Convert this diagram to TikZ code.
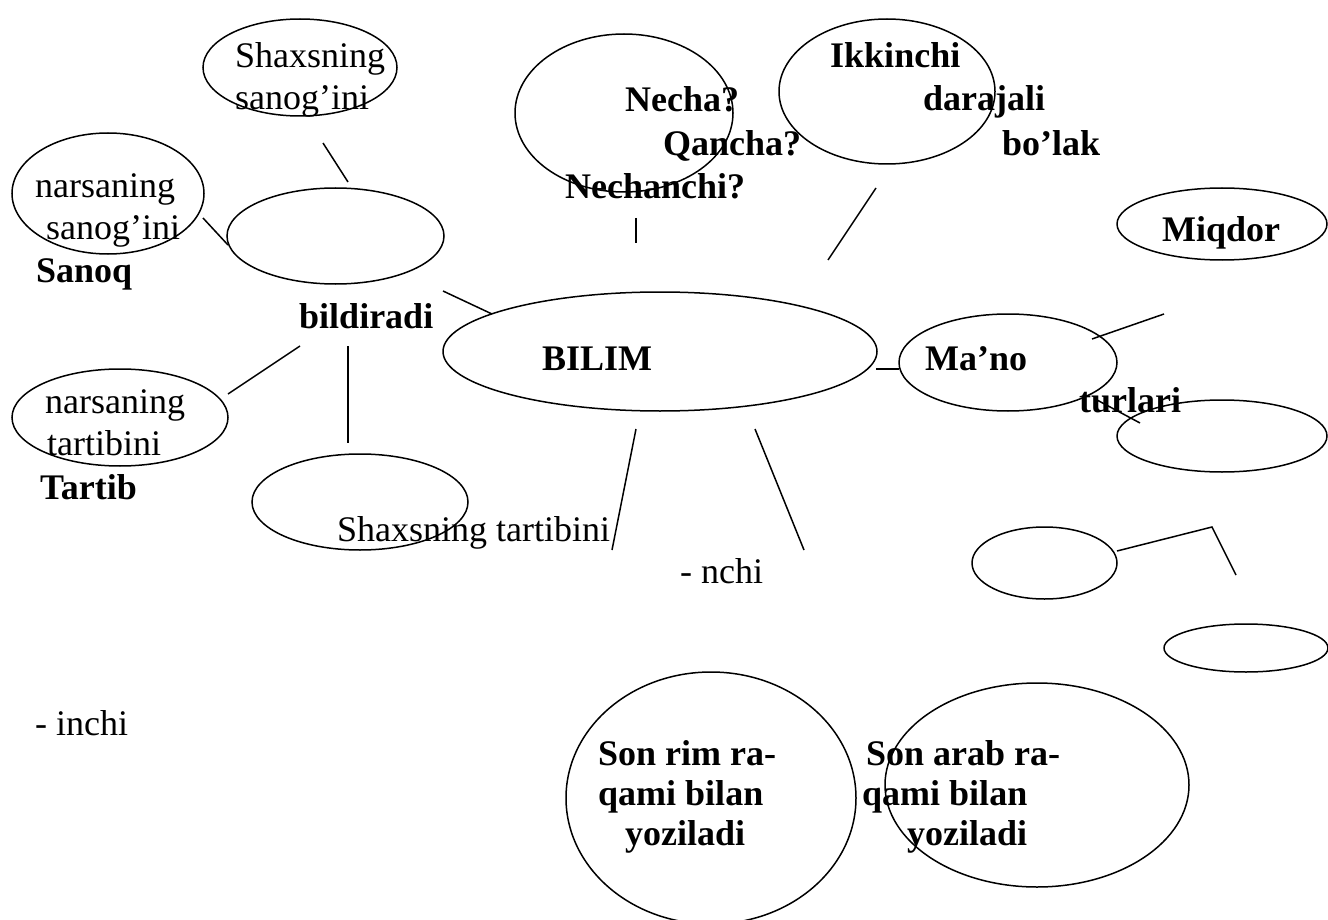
\documentclass[tikz,border=0pt]{standalone}
\usepackage{fontspec}
\setmainfont{Liberation Serif}
\usetikzlibrary{shapes.geometric}
\begin{document}
\begin{tikzpicture}[x=1pt,y=-1pt,
  ell/.style={draw, ellipse, line width=1.5pt, inner sep=0pt},
  esz/.style 2 args={minimum width=#1, minimum height=#2},
  conn/.style={line width=1.5pt},
  rt/.style={anchor=base west, inner sep=0pt, font=\fontsize{36}{43}\selectfont},
  bt/.style={anchor=base west, inner sep=0pt, font=\fontsize{36}{43}\selectfont\bfseries}]
\useasboundingbox (0,0) rectangle (1328,920);
\fill[white] (0,0) rectangle (1328,920);

% ellipses
\node[ell, esz={194pt}{97pt}]  (eA)    at (300,67.5) {};
\node[ell, esz={192pt}{121pt}] (eB)    at (108,193.5) {};
\node[ell, esz={217pt}{96pt}]  (eC)    at (335.5,236) {};
\node[ell, esz={216pt}{97pt}]  (eD)    at (120,417.5) {};
\node[ell, esz={216pt}{96pt}]  (eE)    at (360,502) {};
\node[ell, esz={218pt}{158pt}] (eNec)  at (624,113) {};
\node[ell, esz={216pt}{145pt}] (eIkk)  at (887,91.5) {};
\node[ell, esz={210pt}{72pt}]  (eMiq)  at (1222,224) {};
\node[ell, esz={434pt}{119pt}] (eBil)  at (660,351.5) {};
\node[ell, esz={218pt}{97pt}]  (eMan)  at (1008,362.5) {};
\node[ell, esz={210pt}{72pt}]  (eF)    at (1222,436) {};
\node[ell, esz={145pt}{72pt}]  (eG)    at (1044.5,563) {};
\node[ell, esz={164pt}{48pt}]  (eH)    at (1246,648) {};
\node[ell, esz={290pt}{252pt}] (eSon1) at (711,798) {};
\node[ell, esz={304pt}{204pt}] (eSon2) at (1037,785) {};

% connector end points
\coordinate (a1) at (323,143);  \coordinate (a2) at (348,182);
\coordinate (b1) at (203,218);  \coordinate (b2) at (228,245);
\coordinate (c1) at (443,291);  \coordinate (c2) at (492,314);
\coordinate (d1) at (300,346);  \coordinate (d2) at (228,394);
\coordinate (e1) at (348,346);  \coordinate (e2) at (348,443);
\coordinate (f1) at (636,218);  \coordinate (f2) at (636,243);
\coordinate (g1) at (876,188);  \coordinate (g2) at (828,260);
\coordinate (h1) at (636,429);  \coordinate (h2) at (612,550);
\coordinate (i1) at (755,429);  \coordinate (i2) at (804,550);
\coordinate (j1) at (876,369);  \coordinate (j2) at (899,369);
\coordinate (k1) at (1092,339); \coordinate (k2) at (1164,314);
\coordinate (m1) at (1097,400); \coordinate (m2) at (1140,423);
\coordinate (n1) at (1117,551); \coordinate (n2) at (1212,527); \coordinate (n3) at (1236,575);

\draw[conn] (a1) -- (a2);
\draw[conn] (b1) -- (b2);
\draw[conn] (c1) -- (c2);
\draw[conn] (d1) -- (d2);
\draw[conn] (e1) -- (e2);
\draw[conn] (f1) -- (f2);
\draw[conn] (g1) -- (g2);
\draw[conn] (h1) -- (h2);
\draw[conn] (i1) -- (i2);
\draw[conn] (j1) -- (j2);
\draw[conn] (k1) -- (k2);
\draw[conn] (m1) -- (m2);
\draw[conn] (n1) -- (n2) -- (n3);

% texts
\node[rt] (t1)  at (235,68)   {Shaxsning};
\node[rt] (t2)  at (235,110)  {sanog’ini};
\node[rt] (t3)  at (35,198)   {narsaning};
\node[rt] (t4)  at (46,240)   {sanog’ini};
\node[bt] (t5)  at (36,283)   {Sanoq};
\node[bt] (t6)  at (299,328)  {bildiradi};
\node[rt] (t7)  at (45,413)   {narsaning};
\node[rt] (t8)  at (47,455)   {tartibini};
\node[bt] (t9)  at (40,499)   {Tartib};
\node[rt] (t10) at (337,541)  {Shaxsning tartibini};
\node[bt] (t11) at (625,112)  {Necha?};
\node[bt] (t12) at (663,156)  {Qancha?};
\node[bt] (t13) at (565,199)  {Nechanchi?};
\node[bt] (t14) at (830,68)   {Ikkinchi};
\node[bt] (t15) at (923,111)  {darajali};
\node[bt] (t16) at (1002,156) {bo’lak};
\node[bt] (t17) at (1162,241) {Miqdor};
\node[bt] (t18) at (542,370)  {BILIM};
\node[bt] (t19) at (925,370)  {Ma’no};
\node[bt] (t20) at (1079,412) {turlari};
\node[rt] (t21) at (680,583)  {- nchi};
\node[rt] (t22) at (35,735)   {- inchi};
\node[bt] (t23) at (598,765)  {Son rim ra-};
\node[bt] (t24) at (598,805)  {qami bilan};
\node[bt] (t25) at (625,845)  {yoziladi};
\node[bt] (t26) at (866,765)  {Son arab ra-};
\node[bt] (t27) at (862,805)  {qami bilan};
\node[bt] (t28) at (907,845)  {yoziladi};
\end{tikzpicture}
\end{document}
